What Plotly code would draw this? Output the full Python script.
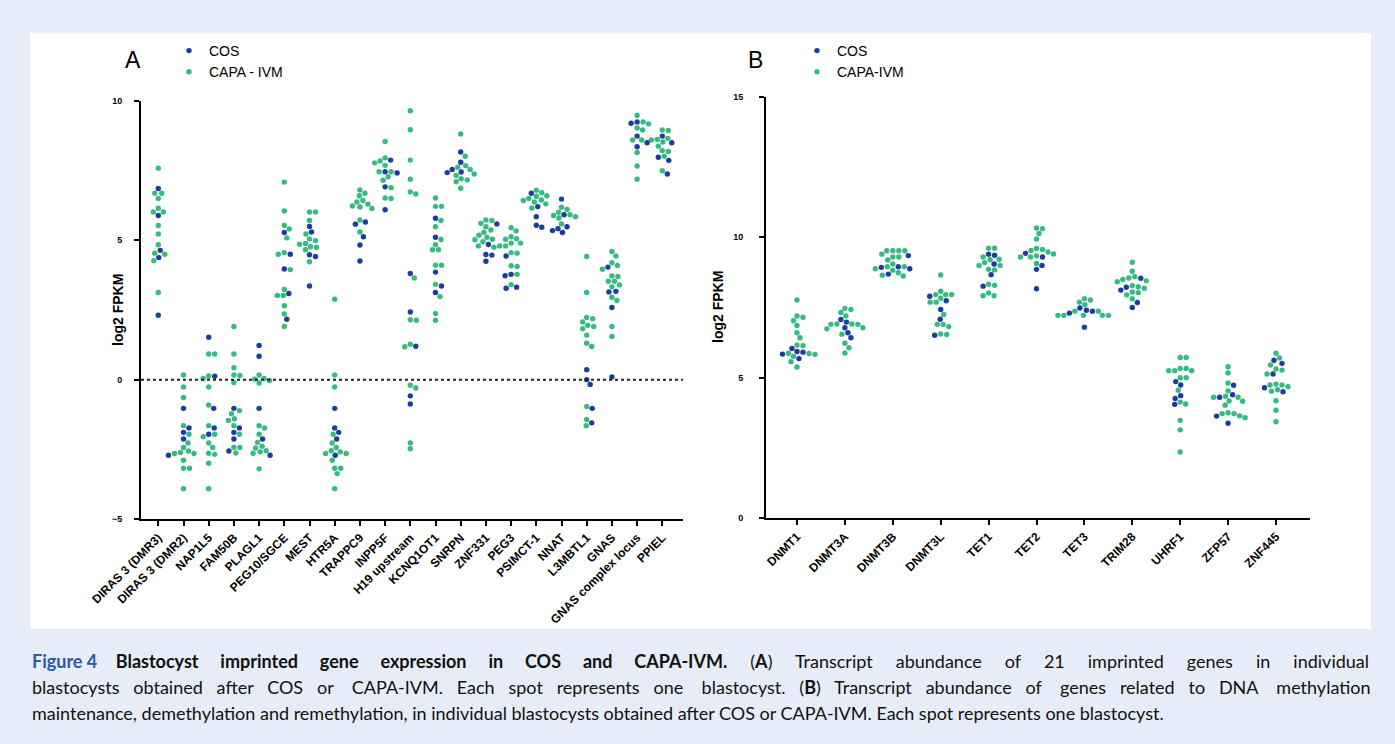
import numpy as np
import plotly.graph_objects as go

# ---------------- data (log2 FPKM) ----------------
genes_a = ["DIRAS 3 (DMR3)", "DIRAS 3 (DMR2)", "NAP1L5", "FAM50B", "PLAGL1", "PEG10/SGCE",
           "MEST", "HTR5A", "TRAPPC9", "INPP5F", "H19 upstream", "KCNQ1OT1", "SNRPN",
           "ZNF331", "PEG3", "PSIMCT-1", "NNAT", "L3MBTL1", "GNAS", "GNAS complex locus", "PPIEL"]

cos_a = [
    [6.86, 5.89, 4.64, 4.38, 2.31],
    [-1.03, -1.73, -1.89, -2.13, -2.71],
    [1.52, 0.12, -1.03, -1.73, -1.96],
    [-1.03, -1.73, -1.89, -2.13, -2.56],
    [1.23, 0.84, -1.03, -2.13, -2.71],
    [5.28, 4.50, 3.97, 3.09, 2.17],
    [5.50, 5.30, 4.48, 4.42, 3.36],
    [-1.03, -1.73, -1.89, -2.13, -2.71],
    [5.66, 5.58, 5.13, 4.83, 4.26],
    [7.88, 7.46, 7.42, 6.92, 6.10],
    [3.81, 2.43, 1.20, -0.58, -0.87],
    [5.79, 5.11, 3.86, 3.36, 3.13],
    [8.17, 7.80, 7.54, 7.45, 7.43],
    [5.59, 4.85, 4.49, 4.47, 4.25],
    [4.44, 3.78, 3.73, 3.32, 3.28],
    [6.69, 6.21, 5.85, 5.54, 5.47],
    [6.48, 5.92, 5.49, 5.42, 5.35, 5.28],
    [0.36, 0.00, -0.17, -1.03, -1.55],
    [4.04, 3.17, 3.15, 2.59, 0.10],
    [9.25, 9.20, 8.74, 8.50, 8.36],
    [8.74, 8.50, 7.98, 7.87, 7.38],
]

capa_a = [
    [7.59, 6.69, 6.69, 6.50, 6.15, 6.02, 6.02, 5.53, 5.23, 4.84, 4.54, 4.50, 4.27, 3.13],
    [0.17, -0.26, -0.64, -1.65, -1.96, -2.27, -2.43, -2.56, -2.61, -2.65, -2.65, -2.89, -3.18, -3.18, -3.91],
    [0.92, 0.92, 0.13, 0.04, -0.26, -0.91, -1.65, -1.96, -2.05, -2.27, -2.43, -2.64, -2.68, -3.00, -3.91],
    [1.91, 0.92, 0.43, 0.17, 0.15, -0.10, -1.11, -1.22, -1.40, -1.46, -1.65, -1.96, -2.43, -2.43, -2.63],
    [0.17, 0.04, 0.02, -0.03, -0.12, -1.65, -1.73, -1.96, -2.25, -2.39, -2.45, -2.55, -2.59, -2.64, -3.20],
    [7.09, 6.05, 5.53, 5.41, 5.09, 4.56, 4.50, 3.95, 3.24, 3.02, 3.02, 2.65, 2.36, 1.91],
    [6.02, 6.02, 5.71, 5.23, 5.05, 4.99, 4.89, 4.86, 4.77, 4.75, 4.66, 4.23],
    [2.89, 0.17, -0.26, -1.96, -2.27, -2.43, -2.55, -2.59, -2.65, -2.65, -2.89, -3.18, -3.18, -3.37, -3.91],
    [6.81, 6.69, 6.60, 6.43, 6.38, 6.30, 6.23, 6.20, 6.14, 5.73, 5.30],
    [8.55, 7.96, 7.85, 7.78, 7.69, 7.46, 7.46, 7.28, 7.16, 6.89, 6.52, 6.50],
    [9.65, 8.97, 7.88, 7.19, 6.74, 6.66, 3.65, 2.13, 2.15, 1.27, 1.18, -0.30, -0.20, -2.27, -2.48],
    [6.52, 6.22, 6.22, 5.71, 5.49, 5.03, 4.84, 4.66, 4.66, 4.11, 4.11, 3.42, 2.98, 2.37, 2.13],
    [8.82, 8.02, 7.68, 7.62, 7.54, 7.38, 7.33, 7.21, 7.17, 7.10, 6.87],
    [5.73, 5.71, 5.61, 5.49, 5.37, 5.29, 5.18, 5.11, 5.04, 5.02, 4.95, 4.80, 4.75],
    [5.45, 5.34, 5.13, 5.06, 5.04, 4.90, 4.90, 4.80, 4.80, 4.56, 4.54, 4.09, 4.06, 3.78, 3.41],
    [6.80, 6.71, 6.60, 6.58, 6.50, 6.45, 6.43, 6.38, 6.31, 6.16],
    [6.19, 6.11, 6.01, 5.92, 5.89, 5.85, 5.80, 5.59],
    [4.42, 3.13, 2.23, 2.19, 2.07, 1.95, 1.91, 1.83, 1.60, 1.31, 1.19, -0.96, -1.43, -1.65],
    [4.60, 4.44, 4.20, 4.10, 3.96, 3.72, 3.70, 3.53, 3.53, 3.40, 3.33, 2.96, 2.84, 1.91, 1.55],
    [9.49, 9.25, 9.18, 9.03, 8.96, 8.60, 8.60, 8.15, 7.67, 7.19],
    [8.96, 8.94, 8.66, 8.62, 8.60, 8.53, 8.38, 8.22, 8.19, 8.02, 7.50],
]

genes_b = ["DNMT1", "DNMT3A", "DNMT3B", "DNMT3L", "TET1", "TET2", "TET3", "TRIM28",
           "UHRF1", "ZFP57", "ZNF445"]

cos_b = [
    [6.04, 5.93, 5.91, 5.84, 5.68],
    [7.07, 6.98, 6.78, 6.60, 6.42],
    [9.35, 8.95, 8.93, 8.88, 8.69],
    [7.90, 7.74, 7.43, 7.08, 6.51],
    [9.40, 9.36, 9.05, 8.67, 8.26],
    [9.43, 9.30, 9.00, 8.86, 8.17],
    [7.48, 7.40, 7.37, 7.30, 6.80],
    [8.54, 8.22, 8.12, 7.68, 7.50],
    [4.86, 4.74, 4.36, 4.26, 4.05],
    [4.73, 4.39, 4.30, 3.63, 3.38],
    [5.62, 5.51, 5.13, 4.64, 4.50],
]

capa_b = [
    [7.77, 7.20, 7.15, 7.03, 6.86, 6.60, 6.42, 6.16, 6.14, 5.87, 5.86, 5.83, 5.76, 5.57, 5.38],
    [7.47, 7.43, 7.32, 7.20, 6.91, 6.91, 6.90, 6.90, 6.78, 6.74, 6.55, 6.23, 6.07, 5.88],
    [9.52, 9.52, 9.52, 9.52, 9.40, 9.30, 9.30, 9.19, 9.05, 8.95, 8.95, 8.88, 8.83, 8.74, 8.65, 8.62],
    [8.66, 8.08, 7.96, 7.96, 7.96, 7.83, 7.69, 7.69, 7.25, 6.90, 6.90, 6.82, 6.56, 6.54],
    [9.61, 9.61, 9.30, 9.22, 9.20, 9.10, 9.00, 9.00, 8.86, 8.84, 8.33, 8.29, 8.02, 7.92, 7.92],
    [10.33, 10.31, 10.14, 9.94, 9.60, 9.57, 9.53, 9.48, 9.41, 9.34, 9.30, 9.30, 9.07],
    [7.81, 7.77, 7.69, 7.60, 7.37, 7.37, 7.22, 7.22, 7.22, 7.22, 7.22],
    [9.11, 8.79, 8.60, 8.55, 8.50, 8.45, 8.42, 8.28, 8.24, 8.19, 8.05, 8.03, 7.95, 7.81],
    [5.72, 5.72, 5.33, 5.33, 5.25, 5.25, 5.25, 5.00, 5.00, 4.55, 4.13, 4.06, 3.48, 3.14, 2.35],
    [5.39, 5.17, 4.81, 4.53, 4.34, 4.30, 4.30, 4.17, 4.16, 4.02, 3.75, 3.72, 3.72, 3.64, 3.57],
    [5.87, 5.70, 5.45, 5.31, 5.27, 5.13, 4.77, 4.74, 4.74, 4.68, 4.57, 4.52, 4.18, 3.84, 3.43],
]

legend_a = ["COS", "CAPA - IVM"]
legend_b = ["COS", "CAPA-IVM"]

# ---------------- styling / layout constants ----------------
W, H = 1395, 744
C_COS = "#1b3d9b"
C_CAPA = "#35bb82"
DOT = 5.4
BG = "#e6edf8"
FONT = "Liberation Sans, Arial"


def px_x(p):
    return p / W


def px_y(p):
    return (H - p) / H


# panel geometry (pixels)
A_X0, A_X1, A_Y0, A_Y1 = 141, 683, 101, 519
B_X0, B_X1, B_Y0, B_Y1 = 766, 1310, 97, 518
A_FIRST, A_STEP = 158.3, 25.2
B_FIRST, B_STEP = 797.0, 47.9
A_YR = (-5, 10)
B_YR = (0, 15)
A_PPU = (A_Y1 - A_Y0) / (A_YR[1] - A_YR[0])
B_PPU = (B_Y1 - B_Y0) / (B_YR[1] - B_YR[0])


def swarm_offsets(vals, ppu, d=5.8, step=0.5):
    """Simple beeswarm: horizontal pixel offsets for a list of values."""
    vals = np.asarray(vals, dtype=float)
    order = np.argsort(-vals, kind="stable")
    placed = []
    off = np.zeros(len(vals))
    for idx in order:
        y = vals[idx] * ppu
        k = 0
        while True:
            cands = [0.0] if k == 0 else [k * step, -k * step]
            found = None
            for c in cands:
                if all((c - px) ** 2 + (y - py) ** 2 >= d * d for px, py in placed):
                    found = c
                    break
            if found is not None:
                break
            k += 1
        placed.append((found, y))
        off[idx] = found
    return off


def build(cos, capa, ppu, step_px):
    xc, yc, xg, yg = [], [], [], []
    for i, (c, g) in enumerate(zip(cos, capa)):
        vals = list(c) + list(g)
        off = swarm_offsets(vals, ppu) / step_px
        for j, v in enumerate(vals):
            if j < len(c):
                xc.append(i + off[j]); yc.append(v)
            else:
                xg.append(i + off[j]); yg.append(v)
    return xc, yc, xg, yg


fig = go.Figure()

xa_c, ya_c, xa_g, ya_g = build(cos_a, capa_a, A_PPU, A_STEP)
xb_c, yb_c, xb_g, yb_g = build(cos_b, capa_b, B_PPU, B_STEP)

fig.add_trace(go.Scatter(x=xa_g, y=ya_g, mode="markers", name=legend_a[1],
                         marker=dict(color=C_CAPA, size=DOT), xaxis="x", yaxis="y",
                         legend="legend", legendrank=2))
fig.add_trace(go.Scatter(x=xa_c, y=ya_c, mode="markers", name=legend_a[0],
                         marker=dict(color=C_COS, size=DOT), xaxis="x", yaxis="y",
                         legend="legend", legendrank=1))
fig.add_trace(go.Scatter(x=xb_g, y=yb_g, mode="markers", name=legend_b[1],
                         marker=dict(color=C_CAPA, size=DOT), xaxis="x2", yaxis="y2",
                         legend="legend2", legendrank=2))
fig.add_trace(go.Scatter(x=xb_c, y=yb_c, mode="markers", name=legend_b[0],
                         marker=dict(color=C_COS, size=DOT), xaxis="x2", yaxis="y2",
                         legend="legend2", legendrank=1))

tickfont = dict(family=FONT, size=9, color="black", weight="bold")
xtickfont = dict(family=FONT, size=12, color="black", weight="bold")

a_xr = ((A_X0 - A_FIRST) / A_STEP, (A_X1 - A_FIRST) / A_STEP)
b_xr = ((B_X0 - B_FIRST) / B_STEP, (B_X1 - B_FIRST) / B_STEP)

axis_common = dict(showgrid=False, zeroline=False, showline=True, linecolor="black",
                   linewidth=2, ticks="outside", ticklen=5, tickwidth=1.5, tickcolor="black",
                   automargin=False)

legend_common = dict(xanchor="left", yanchor="top", bgcolor="rgba(0,0,0,0)", borderwidth=0,
                     tracegroupgap=0, font=dict(family=FONT, size=14, color="black"),
                     itemsizing="trace", traceorder="normal", itemwidth=30)

fig.update_layout(
    template="none",
    width=W, height=H, autosize=False,
    margin=dict(l=0, r=0, t=0, b=0, pad=0, autoexpand=False),
    paper_bgcolor=BG, plot_bgcolor="rgba(0,0,0,0)",
    showlegend=True,
    xaxis=dict(domain=[px_x(A_X0), px_x(A_X1)], range=list(a_xr),
               tickvals=list(range(len(genes_a))), ticktext=genes_a, tickangle=-45,
               tickfont=xtickfont, anchor="y", **axis_common),
    yaxis=dict(domain=[px_y(A_Y1), px_y(A_Y0)], range=list(A_YR),
               tickvals=[-5, 0, 5, 10], tickfont=tickfont, anchor="x",
               ticklabelstandoff=10, **axis_common),
    xaxis2=dict(domain=[px_x(B_X0), px_x(B_X1)], range=list(b_xr),
                tickvals=list(range(len(genes_b))), ticktext=genes_b, tickangle=-45,
                tickfont=xtickfont, anchor="y2", **axis_common),
    yaxis2=dict(domain=[px_y(B_Y1), px_y(B_Y0)], range=list(B_YR),
                tickvals=[0, 5, 10, 15], tickfont=tickfont, anchor="x2",
                ticklabelstandoff=14, **axis_common),
    legend=dict(x=px_x(169), y=px_y(35), **legend_common),
    legend2=dict(x=px_x(797), y=px_y(35), **legend_common),
)

# white panel and dotted zero line
fig.add_shape(type="rect", xref="paper", yref="paper",
              x0=px_x(30), x1=px_x(1371), y0=px_y(629), y1=px_y(33),
              fillcolor="white", line=dict(width=0), layer="below")
fig.add_shape(type="line", xref="x domain", yref="y", x0=0, x1=1, y0=0, y1=0,
              line=dict(color="#222222", width=2, dash="dot"))

# panel letters and y titles
for letter, xp in [("A", 133), ("B", 755)]:
    fig.add_annotation(text=letter, x=px_x(xp), y=px_y(60), xref="paper", yref="paper",
                       xanchor="center", yanchor="middle", showarrow=False,
                       font=dict(family=FONT, size=23, color="black"))
for xp, yp in [(118, 310), (718, 307)]:
    fig.add_annotation(text="<b>log2 FPKM</b>", x=px_x(xp), y=px_y(yp), xref="paper", yref="paper",
                       xanchor="center", yanchor="middle", showarrow=False, textangle=-90,
                       font=dict(family=FONT, size=14, color="black"))

# caption (justified by widening the word gaps)
cap_font = dict(family="Lato, Open Sans, sans-serif", size=18, color="#111111")
cap_lines = [
    ["<span style='color:#2e57a6'><b>Figure 4</b></span>", "<b>Blastocyst", "imprinted", "gene", "expression", "in",
     "COS", "and", "CAPA-IVM.</b>", "(<b>A</b>)", "Transcript", "abundance", "of", "21", "imprinted", "genes",
     "in", "individual"],
    ["blastocysts", "obtained", "after", "COS", "or", "CAPA-IVM.", "Each", "spot", "represents", "one",
     "blastocyst.", "(<b>B</b>)", "Transcript", "abundance", "of", "genes", "related", "to", "DNA", "methylation"],
    ["maintenance,", "demethylation", "and", "remethylation,", "in", "individual", "blastocysts", "obtained",
     "after", "COS", "or", "CAPA-IVM.", "Each", "spot", "represents", "one", "blastocyst."],
]
extra_nbsp = [67, 42, 0]   # extra non-breaking spaces spread over each line's gaps


def justify(words, extra):
    gaps = len(words) - 1
    out = words[0]
    for g in range(gaps):
        n = 1 + (extra * (g + 1)) // gaps - (extra * g) // gaps
        out += "\u00a0" * (n - 1) + " " + words[g + 1]
    return out


for k, words in enumerate(cap_lines):
    fig.add_annotation(text=justify(words, extra_nbsp[k]), x=px_x(30), y=px_y(661 + 26 * k),
                       xref="paper", yref="paper", xanchor="left", yanchor="middle",
                       showarrow=False, font=cap_font, align="left")

page_fix = ("document.body.style.margin='0';document.body.style.padding='0';"
            "document.body.style.background='" + BG + "';")
fig.write_html("out.html", post_script=page_fix, config={"displayModeBar": False})
